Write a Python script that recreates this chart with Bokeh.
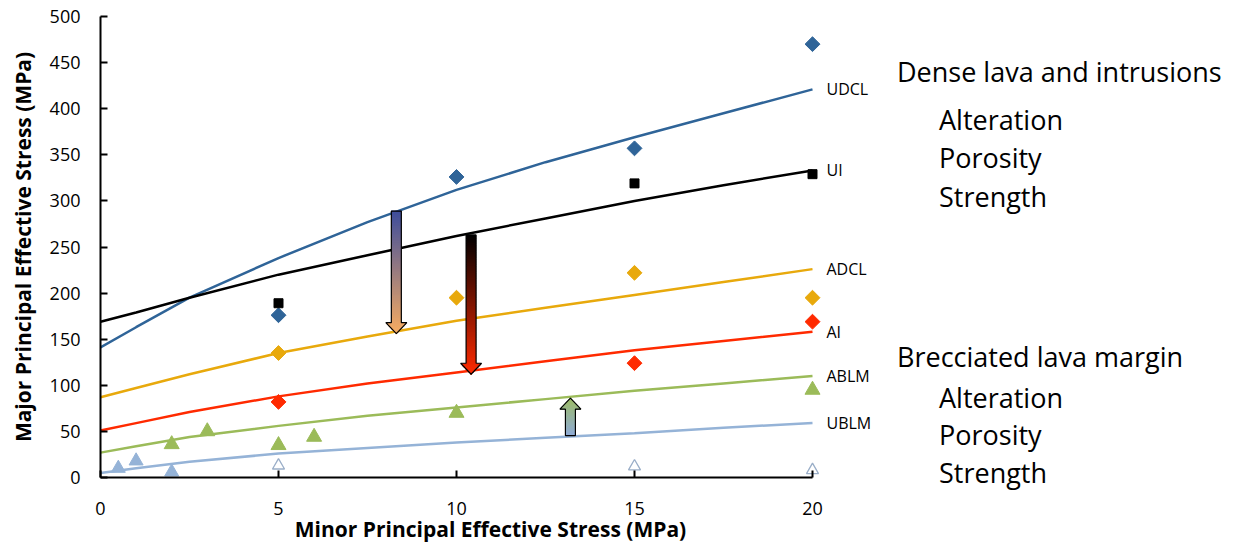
import numpy as np
from bokeh.plotting import figure
from bokeh.layouts import row
from bokeh.models import Range1d, FixedTicker, Label, Div
from bokeh.embed import file_html
from bokeh.resources import INLINE

# ---------------- data ----------------
curve_x = [0, 1, 2.5, 5, 7.5, 10, 12.5, 15, 17.5, 20]
udcl_curve = [141, 163, 195, 238, 277, 312, 342, 369, 395, 421]
ui_curve = [169, 179, 195, 220, 241, 262, 281, 300, 317, 333]
adcl_curve = [87, 97, 112, 135, 153, 170, 184, 198, 212, 226]
ai_curve = [51, 59, 71, 88, 102, 114, 126, 138, 148, 158]
ablm_curve = [27, 34, 44, 56, 67, 76, 85, 94, 102, 110]
ublm_curve = [5, 10, 17, 26, 32, 38, 43, 48, 54, 59]

udcl_x = [5, 10, 15, 20]
udcl_y = [176, 326, 357, 470]
ui_x = [5, 15, 20]
ui_y = [189, 319, 329]
adcl_x = [5, 10, 15, 20]
adcl_y = [135, 195, 222, 195]
ai_x = [5, 15, 20]
ai_y = [82, 124, 169]
ablm_x = [2, 3, 5, 6, 10, 20]
ablm_y = [36, 50, 35, 44, 70, 95]
ublm_x = [0.5, 1, 2]
ublm_y = [10, 18, 6]
ublm_open_x = [5, 15, 20]
ublm_open_y = [13, 12, 8]

curve_names = ["UDCL", "UI", "ADCL", "AI", "ABLM", "UBLM"]

arrow_x = [8.31, 10.41, 13.2]
arrow_from = [289, 263, 45.5]
arrow_to = [156, 112, 86]
arrow_start_color = ["#3C4C9C", "#000000", "#8EAAD8"]
arrow_end_color = ["#F7AC62", "#FF2A00", "#9DBB68"]

dense_title = "Dense lava and intrusions"
breccia_title = "Brecciated lava margin"
sub_items = ["Alteration", "Porosity", "Strength"]

x_ticks = [0, 5, 10, 15, 20]
y_ticks = [0, 50, 100, 150, 200, 250, 300, 350, 400, 450, 500]

# ---------------- styles ----------------
FONT = "Open Sans"
C_UDCL = "#2F6498"
C_UI = "#000000"
C_ADCL = "#E8A90C"
C_AI = "#FF2A00"
C_ABLM = "#9BBB59"
C_UBLM = "#95B3D7"

W1, W2, H = 880, 354, 547
BL, BT, BB = 100, 16, 70
frame_w = W1 - BL
frame_h = H - BT - BB
XUNIT = 35.6                      # px per x unit (matches reference)
XMAX = frame_w / XUNIT
px_x = 1.0 / XUNIT
px_y = 500.0 / frame_h

p = figure(width=W1, height=H, x_range=Range1d(0, XMAX), y_range=Range1d(0, 500),
           output_backend="svg", toolbar_location=None,
           min_border_left=BL, min_border_right=0, min_border_top=BT, min_border_bottom=BB)
p.outline_line_color = None
p.grid.visible = False
p.background_fill_color = "white"
p.border_fill_color = "white"

for ax in (p.xaxis[0], p.yaxis[0]):
    ax.axis_line_width = 2
    ax.axis_line_color = "black"
    ax.major_tick_line_width = 2
    ax.major_tick_in = 7
    ax.major_tick_out = 0
    ax.minor_tick_line_color = None
    ax.major_label_text_font = FONT
    ax.major_label_text_font_size = "18px"
    ax.major_label_text_color = "black"
    ax.axis_label_text_font = FONT
    ax.axis_label_text_font_style = "bold"
    ax.axis_label_text_font_size = "21px"
    ax.axis_label_text_color = "black"

p.xaxis[0].bounds = (0, 20)
p.xaxis[0].ticker = FixedTicker(ticks=x_ticks)
p.yaxis[0].ticker = FixedTicker(ticks=y_ticks)
p.xaxis[0].axis_label = "Minor Principal Effective Stress (MPa)"
p.yaxis[0].axis_label = "Major Principal Effective Stress (MPa)"
p.xaxis[0].major_label_standoff = 24
p.yaxis[0].major_label_standoff = 20
p.xaxis[0].axis_label_standoff = -3
p.yaxis[0].axis_label_standoff = 10

# curves
for ys, c in [(udcl_curve, C_UDCL), (ui_curve, C_UI), (adcl_curve, C_ADCL),
              (ai_curve, C_AI), (ablm_curve, C_ABLM), (ublm_curve, C_UBLM)]:
    p.line(curve_x, ys, line_color=c, line_width=2.5)

# arrows (gradient via thin slices)
def hex2rgb(h):
    h = h.lstrip("#")
    return np.array([int(h[i:i + 2], 16) for i in (0, 2, 4)], dtype=float)

def rgb2hex(a):
    return "#%02x%02x%02x" % tuple(int(round(v)) for v in a)

shaft_hw = 5.0 * px_x
head_hw = 10.5 * px_x
head_len = 11.0 * px_y
N = 80
for ax_, y0, y1, c0, c1 in zip(arrow_x, arrow_from, arrow_to, arrow_start_color, arrow_end_color):
    direction = np.sign(y1 - y0)
    base = y1 - direction * head_len
    ts = np.linspace(0, 1, N + 1)
    ys = y0 + (y1 - y0) * ts
    lefts, rights, tops, bottoms, cols = [], [], [], [], []
    a0, a1 = hex2rgb(c0), hex2rgb(c1)
    for i in range(N):
        ya, yb = ys[i], ys[i + 1]
        ym = 0.5 * (ya + yb)
        if (ym - base) * direction > 0:
            hw = head_hw * abs(y1 - ym) / head_len
        else:
            hw = shaft_hw
        ext = 0.6 * px_y
        lefts.append(ax_ - hw)
        rights.append(ax_ + hw)
        tops.append(max(ya, yb) + ext)
        bottoms.append(min(ya, yb) - ext)
        cols.append(rgb2hex(a0 + (a1 - a0) * (0.5 * (ts[i] + ts[i + 1]))))
    p.quad(left=lefts, right=rights, top=tops, bottom=bottoms, fill_color=cols, line_color=None)
    outline_x = [ax_ - shaft_hw, ax_ + shaft_hw, ax_ + shaft_hw, ax_ + head_hw, ax_,
                 ax_ - head_hw, ax_ - shaft_hw, ax_ - shaft_hw]
    outline_y = [y0, y0, base, base, y1, base, base, y0]
    p.patch(outline_x, outline_y, fill_color=None, line_color="black", line_width=1.2)

# markers
p.scatter(udcl_x, udcl_y, marker="square", angle=np.pi / 4, size=10.5, fill_color=C_UDCL, line_color=C_UDCL)
p.scatter(ui_x, ui_y, marker="square", size=9, fill_color="black", line_color="black")
p.scatter(adcl_x, adcl_y, marker="square", angle=np.pi / 4, size=10.5, fill_color=C_ADCL, line_color=C_ADCL)
p.scatter(ai_x, ai_y, marker="square", angle=np.pi / 4, size=10.5, fill_color=C_AI, line_color=C_AI)
p.scatter(ablm_x, ablm_y, marker="triangle", size=15, fill_color=C_ABLM, line_color=C_ABLM)
p.scatter(ublm_x, ublm_y, marker="triangle", size=14, fill_color=C_UBLM, line_color=C_UBLM)
p.scatter(ublm_open_x, ublm_open_y, marker="triangle", size=12, fill_color="white",
          line_color="#9AAEC8", line_width=1.3)

# curve labels
ends = [udcl_curve[-1], ui_curve[-1], adcl_curve[-1], ai_curve[-1], ablm_curve[-1], ublm_curve[-1]]
for name, yv in zip(curve_names, ends):
    p.add_layout(Label(x=curve_x[-1] + 14 * px_x, y=yv, text=name, text_font=FONT,
                       text_font_size="16px", text_baseline="middle", text_align="left",
                       text_color="black"))

# right-side text panel (HTML, absolutely positioned lines; baselines in page px)
FS = 27
ASC, DESC = 1.069, 0.293
base_off = (FS - (ASC + DESC) * FS) / 2 + ASC * FS   # baseline offset inside a line box
title_left = 897 - W1
sub_left = 939 - W1
blocks = [(dense_title, 82, [130, 168, 206.5]), (breccia_title, 366.5, [408, 445, 483])]
spans = []
for title, tb, sbs in blocks:
    spans.append((title, title_left, tb))
    for s, sb in zip(sub_items, sbs):
        spans.append((s, sub_left, sb))
html_parts = []
for txt, left, bl in spans:
    top = bl - base_off
    html_parts.append(
        f'<span style="position:absolute;left:{left}px;top:{top:.1f}px;white-space:nowrap;'
        f'font-family:\'{FONT}\';font-size:{FS}px;line-height:{FS}px;color:#000;">{txt}</span>')
html = (f'<div style="position:relative;width:{W2}px;height:{H}px;margin:0;padding:0;'
        f'background:white;overflow:visible;">' + "".join(html_parts) + '</div>')
d = Div(text=html, width=W2, height=H, styles={"margin": "0", "padding": "0"})

layout = row(p, d, spacing=0)
open("out.html", "w").write(file_html(layout, INLINE))
